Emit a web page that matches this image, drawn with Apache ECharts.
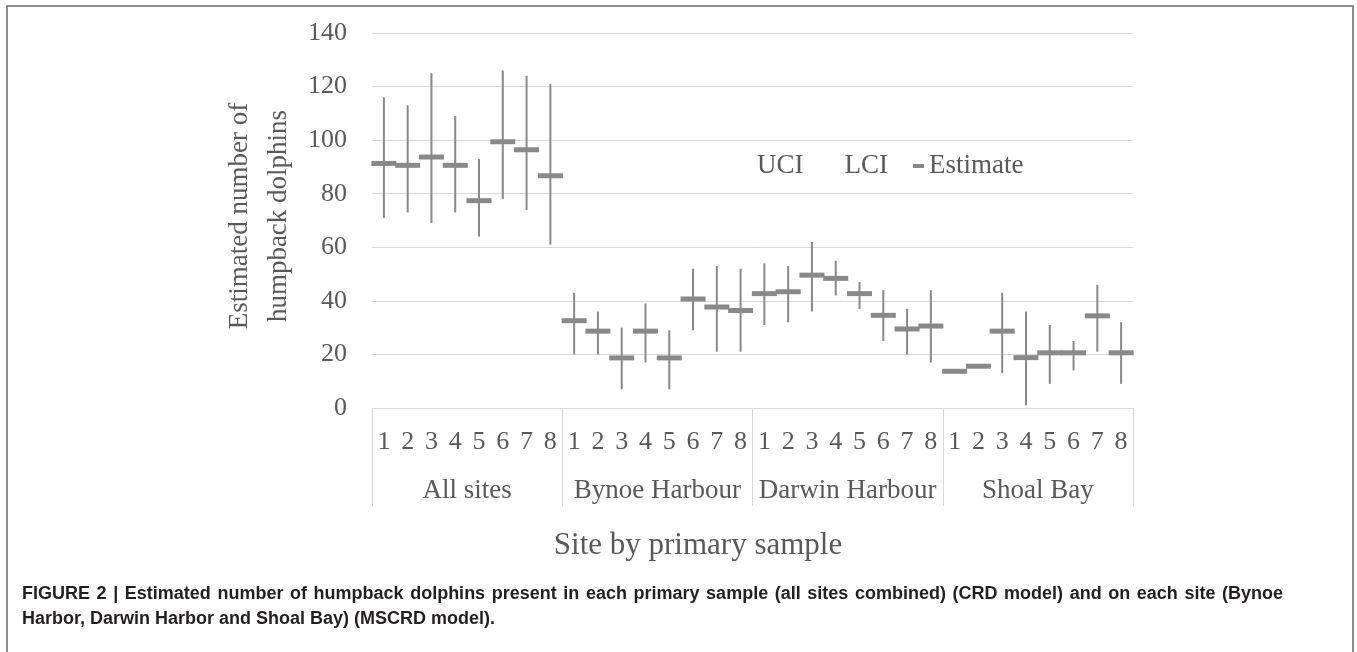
<!DOCTYPE html>
<html>
<head>
<meta charset="utf-8">
<title>Humpback dolphins estimate</title>
<script src="https://cdn.jsdelivr.net/npm/echarts@6/dist/echarts.min.js"></script>
<style>
  html, body { margin: 0; padding: 0; background: #fff; }
  #chart { width: 1357px; height: 652px; }
</style>
</head>
<body>
<div id="chart"></div>
<script>
// site groups and primary sample numbers
const groups = ["All sites", "Bynoe Harbour", "Darwin Harbour", "Shoal Bay"];
const samples = ["1", "2", "3", "4", "5", "6", "7", "8"];

// values, in group order (8 samples per group)
const estimate = [
  91.3, 90.6, 93.7, 90.6, 77.4, 99.4, 96.4, 86.7,
  32.6, 28.7, 18.7, 28.7, 18.7, 40.7, 37.7, 36.4,
  42.7, 43.4, 49.6, 48.4, 42.7, 34.6, 29.5, 30.6,
  13.7, 15.6, 28.7, 18.8, 20.6, 20.6, 34.4, 20.6
];
const uci = [
  116, 113, 125, 109, 93, 126, 124, 121,
  43, 36, 30, 39, 29, 52, 53, 52,
  54, 53, 62, 55, 47, 44, 37, 44,
  null, null, 43, 36, 31, 25, 46, 32
];
const lci = [
  71, 73, 69, 73, 64, 78, 74, 61,
  20, 20, 7, 17, 7, 29, 21, 21,
  31, 32, 36, 42, 37, 25, 20, 17,
  null, null, 13, 1, 9, 14, 21, 9
];
const yTicks = { min: 0, max: 140, interval: 20 };

const captionLines = [
  "FIGURE 2 | Estimated number of humpback dolphins present in each primary sample (all sites combined) (CRD model) and on each site (Bynoe",
  "Harbor, Darwin Harbor and Shoal Bay) (MSCRD model)."
];

const serif = "'Liberation Serif', 'Times New Roman', serif";
const captionFont = "bold 18px 'Liberation Sans', Arial, sans-serif";
const textGrey = "#595959";
const lineGrey = "#d9d9d9";
const markGrey = "#898989";

const categories = [];
groups.forEach(() => samples.forEach(s => categories.push(s)));

// whisker from the estimate out to one confidence limit
function whisker(params, api) {
  const p1 = api.coord([api.value(0), api.value(1)]);
  const p2 = api.coord([api.value(0), api.value(2)]);
  return {
    type: "line",
    shape: { x1: p1[0], y1: p1[1], x2: p2[0], y2: p2[1] },
    style: { stroke: markGrey, lineWidth: 2 }
  };
}
function limitData(limit) {
  return estimate
    .map((e, i) => [i, e, limit[i]])
    .filter(d => d[2] !== null);
}

// caption: first line is justified to the box width, last line is not
function captionGraphics() {
  const ctx = document.createElement("canvas").getContext("2d");
  ctx.font = captionFont;
  const left = 22, right = 1283;
  const out = [];
  const words = captionLines[0].split(" ");
  const widths = words.map(w => ctx.measureText(w).width);
  const total = widths.reduce((a, b) => a + b, 0);
  const gap = (right - left - total) / (words.length - 1);
  let x = left;
  words.forEach((w, i) => {
    out.push({
      type: "text", silent: true, x: x, y: 594,
      style: { text: w, font: captionFont, verticalAlign: "middle", fill: "#231f20" }
    });
    x += widths[i] + gap;
  });
  out.push({
    type: "text", silent: true, x: left, y: 619,
    style: { text: captionLines[1], font: captionFont, verticalAlign: "middle", fill: "#231f20" }
  });
  return out;
}

const chart = echarts.init(document.getElementById("chart"));
chart.setOption({
  animation: false,
  backgroundColor: "#fff",
  grid: { left: 372, right: 224, top: 33, bottom: 244, outerBoundsMode: "none" },
  legend: {
    left: 741,
    top: 151,
    padding: 0,
    itemWidth: 11,
    itemHeight: 4,
    itemGap: 25,
    selectedMode: false,
    textStyle: { fontFamily: serif, fontSize: 27, color: textGrey, lineHeight: 30 },
    data: [
      { name: "UCI", icon: "none" },
      { name: "LCI", icon: "none" },
      { name: "Estimate", icon: "rect", itemStyle: { color: markGrey } }
    ]
  },
  xAxis: [
    {
      type: "category",
      data: categories,
      position: "bottom",
      axisLine: { show: false },
      axisTick: { show: false },
      axisLabel: {
        interval: 0,
        margin: 21,
        fontFamily: serif,
        fontSize: 26,
        color: textGrey
      }
    },
    {
      type: "category",
      data: groups,
      position: "bottom",
      axisLine: { show: true, lineStyle: { color: lineGrey, width: 1 } },
      axisTick: { show: true, interval: 0, length: 98, lineStyle: { color: lineGrey, width: 1 } },
      axisLabel: {
        interval: 0,
        margin: 69,
        fontFamily: serif,
        fontSize: 27,
        color: textGrey
      },
      splitLine: { show: false }
    }
  ],
  yAxis: {
    type: "value",
    min: yTicks.min,
    max: yTicks.max,
    interval: yTicks.interval,
    axisLine: { show: false },
    axisTick: { show: false },
    splitLine: { lineStyle: { color: lineGrey, width: 1 } },
    axisLabel: { margin: 25, fontFamily: serif, fontSize: 26, color: textGrey }
  },
  series: [
    {
      name: "UCI",
      type: "custom",
      xAxisIndex: 0,
      renderItem: whisker,
      encode: { x: 0, y: [1, 2] },
      itemStyle: { color: markGrey },
      data: limitData(uci),
      z: 2
    },
    {
      name: "LCI",
      type: "custom",
      xAxisIndex: 0,
      renderItem: whisker,
      encode: { x: 0, y: [1, 2] },
      itemStyle: { color: markGrey },
      data: limitData(lci),
      z: 2
    },
    {
      name: "Estimate",
      type: "scatter",
      xAxisIndex: 0,
      symbol: "rect",
      symbolSize: [25, 5],
      itemStyle: { color: markGrey, opacity: 1 },
      data: estimate,
      z: 3
    }
  ],
  graphic: [
    {
      type: "rect",
      silent: true,
      shape: { x: 7, y: 6, width: 1346, height: 700 },
      style: { fill: "none", stroke: "#6a6a6a", lineWidth: 1.5 }
    },
    {
      type: "text",
      silent: true,
      x: 259,
      y: 216,
      rotation: Math.PI / 2,
      style: {
        text: "Estimated number of\nhumpback dolphins",
        font: "27px " + serif,
        lineHeight: 39,
        align: "center",
        verticalAlign: "middle",
        fill: textGrey
      }
    },
    {
      type: "text",
      silent: true,
      x: 698,
      y: 546,
      style: {
        text: "Site by primary sample",
        font: "31px " + serif,
        align: "center",
        verticalAlign: "middle",
        fill: textGrey
      }
    }
  ].concat(captionGraphics())
});
</script>
</body>
</html>
